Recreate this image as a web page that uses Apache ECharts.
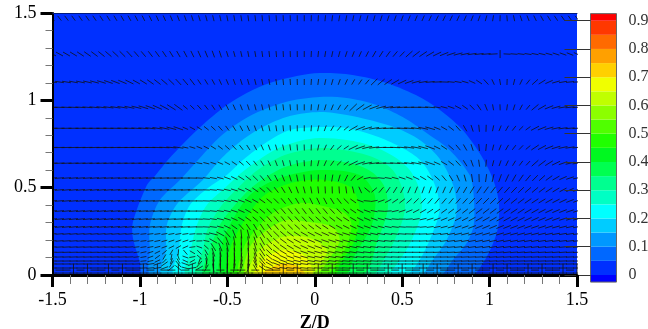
<!DOCTYPE html>
<html><head><meta charset="utf-8">
<style>html,body{margin:0;padding:0;background:#fff}#c{width:648px;height:329px}</style>
<script src="https://cdn.jsdelivr.net/npm/echarts@6/dist/echarts.min.js"></script>
</head><body><div id="c"></div>
<script>
const bandEdges=[-0.025,0,0.05,0.1,0.15,0.2,0.25,0.3,0.35,0.4,0.45,0.5,0.55,0.6,0.65,0.7,0.75,0.8,0.85,0.9,0.925];
const bandColors=['#0000ff','#0030ff','#0068ff','#0098ff','#00ccff','#00ffff','#00ffc4','#00ff90','#00ff50','#00f820','#20ff00','#50ff00','#8cff00','#c0ff00','#f0ff00','#ffd000','#ffa000','#ff6a00','#ff3800','#ff0000'];
const legendTicks=[0,0.9,0.1];
const contour005=[[-.983,0],[-1,.074],[-1.04,.212],[-1.04,.303],[-.96,.515],[-.914,.567],[-.84,.658],[-.743,.761],[-.629,.87],[-.503,.973],[-.389,1.042],[-.257,1.099],[-.103,1.139],[.029,1.156],[.217,1.145],[.411,1.099],[.6,1.019],[.731,.933],[.846,.83],[.943,.698],[1.017,.555],[1.051,.429],[1.051,.286],[1.023,.189],[.966,.074],[.897,0]];
const contour010=[[-.931,0],[-.943,.143],[-.943,.286],[-.886,.429],[-.771,.544],[-.657,.67],[-.543,.79],[-.411,.887],[-.297,.944],[-.143,.996],[.029,1.019],[.183,1.013],[.354,.973],[.503,.904],[.64,.813],[.771,.716],[.886,.572],[.909,.458],[.909,.286],[.869,.183],[.789,.086],[.714,0]];
const contour015=[[-.869,0],[-.851,.143],[-.846,.286],[-.783,.412],[-.64,.544],[-.543,.658],[-.429,.761],[-.297,.847],[-.143,.91],[.029,.933],[.183,.916],[.314,.887],[.469,.841],[.6,.773],[.697,.687],[.754,.601],[.8,.487],[.811,.355],[.754,.2],[.674,.086],[.6,0]];
const contour020=[[-.8,0],[-.777,.143],[-.76,.286],[-.714,.401],[-.611,.498],[-.503,.572],[-.411,.658],[-.274,.761],[-.143,.83],[.029,.847],[.183,.841],[.331,.801],[.469,.744],[.583,.675],[.646,.601],[.697,.487],[.714,.372],[.674,.24],[.6,.086],[.514,0]];
const contour025=[[-.731,0],[-.709,.143],[-.674,.286],[-.617,.401],[-.514,.498],[-.4,.601],[-.229,.716],[-.086,.767],[.029,.784],[.183,.773],[.331,.738],[.457,.675],[.543,.601],[.6,.487],[.611,.361],[.56,.212],[.486,.086],[.4,0]];
const contour030=[[-.674,0],[-.64,.143],[-.611,.269],[-.531,.401],[-.44,.498],[-.326,.601],[-.171,.687],[.029,.727],[.2,.71],[.343,.67],[.446,.601],[.503,.487],[.514,.361],[.457,.2],[.4,.097],[.326,0]];
const contour035=[[-.629,0],[-.6,.143],[-.543,.286],[-.457,.401],[-.343,.515],[-.171,.618],[.029,.658],[.2,.641],[.326,.59],[.4,.504],[.417,.372],[.36,.2],[.269,0]];
const contour040=[[-.531,0],[-.531,.172],[-.486,.286],[-.371,.458],[-.2,.555],[.029,.601],[.257,.572],[.343,.458],[.326,.286],[.229,.114],[.171,0]];
const contour045=[[-.474,0],[-.486,.143],[-.4,.315],[-.286,.458],[-.114,.532],[.057,.544],[.211,.498],[.257,.372],[.229,.2],[.143,.057],[.114,0]];
const contour050=[[-.429,0],[-.411,.143],[-.354,.24],[-.24,.355],[-.086,.412],[.046,.395],[.171,.355],[.211,.286],[.171,.143],[.057,0]];
const contour055=[[-.394,0],[-.371,.16],[-.274,.258],[-.16,.315],[-.029,.303],[.103,.275],[.143,.2],[.086,.097],[0,0]];
const contour060=[[-.371,0],[-.326,.132],[-.183,.218],[-.029,.212],[.069,.143],[.029,.057],[-.029,0]];
const contour065=[[-.343,0],[-.286,.097],[-.171,.143],[-.057,.109],[-.017,0]];
const contour070=[[-.303,0],[-.2,.063],[-.097,.052],[-.057,0]];
const contourList=[contour005,contour010,contour015,contour020,contour025,contour030,contour035,contour040,contour045,contour050,contour055,contour060,contour065,contour070];
const meshZ=[-1.5,-1.46,-1.42,-1.38,-1.34,-1.3,-1.26,-1.22,-1.18,-1.14,-1.1,-1.06,-1.02,-.98,-.94,-.9,-.86,-.82,-.78,-.74,-.7,-.66,-.62,-.58,-.54,-.5,-.46,-.42,-.38,-.34,-.3,-.26,-.22,-.18,-.14,-.1,-.06,-.02,.02,.06,.1,.14,.18,.22,.26,.3,.34,.38,.42,.46,.5,.54,.58,.62,.66,.7,.74,.78,.82,.86,.9,.94,.98,1.02,1.06,1.1,1.14,1.18,1.22,1.26,1.3,1.34,1.38,1.42,1.46,1.5];
const meshY=[1.47,1.265,1.105,.96,.84,.73,.64,.555,.487,.424,.366,.32,.275,.235,.195,.16,.13,.103,.08,.063,.04,.028,.011];
const vectorAngles=[
[-52,-52,-53,-54,-55,-55,-56,-57,-58,-59,-60,-61,-62,-63,-64,-65,-66,-68,-69,-70,-72,-73,-75,-76,-78,-79,-80,-81,-82,-83,-84,-85,-86,-87,-88,-89,-90,88,86,84,82,80,79,78,76,75,74,72,71,70,69,68,67,66,65,64,64,64,65,66,68,70,74,80,88,-85,-78,-72,-68,-64,-61,-58,-56,-55,-54,-53],
[-28,-29,-30,-31,-33,-35,-37,-39,-41,-43,-45,-47,-49,-50,-52,-54,-56,-58,-60,-62,-64,-66,-68,-70,-72,-73,-75,-77,-79,-80,-82,-84,-85,-87,-88,-89,90,87,84,81,78,75,72,69,66,63,60,57,54,50,46,42,38,34,30,26,22,18,15,12,9,7,5,3,90,-3,-5,-7,-9,-11,-13,-15,-18,-20,-22,-25],
[-8,-9,-10,-11,-12,-13,-15,-17,-19,-21,-23,-26,-29,-32,-35,-38,-41,-44,-47,-50,-53,-56,-59,-62,-65,-67,-70,-72,-74,-76,-78,-80,-82,-84,-86,-88,90,86,82,78,74,70,65,60,55,50,45,40,35,30,25,20,15,10,6,2,-2,-6,-10,-16,-24,-34,-48,-65,-80,88,76,64,52,42,32,24,16,10,6,3],
[-2,-2,-3,-3,-4,-5,-6,-7,-8,-9,-10,-12,-14,-17,-20,-24,-28,-32,-36,-40,-44,-48,-52,-56,-60,-63,-66,-69,-72,-75,-77,-79,-81,-83,-85,-88,90,86,80,74,68,60,52,44,36,28,20,14,10,6,4,2,0,-2,-5,-9,-14,-20,-28,-36,-46,-56,-68,-80,-88,82,72,62,50,40,30,22,16,10,6,4],
[1,1,1,1,1,0,0,0,-1,-1,-2,-3,-4,-5,-7,-9,-12,-15,-19,-24,-28,-33,-38,-43,-48,-53,-58,-62,-66,-70,-74,-78,-81,-84,-87,-89,90,85,78,70,60,50,40,30,22,16,10,6,3,0,-2,-5,-8,-12,-16,-22,-30,-38,-48,-60,-72,-84,88,78,68,60,52,44,36,28,22,16,12,8,5,3],
[2,2,2,2,2,2,2,2,2,2,1,1,0,0,-1,-2,-3,-5,-8,-12,-17,-22,-27,-32,-37,-42,-47,-52,-57,-62,-66,-70,-74,-78,-82,-85,-88,88,78,66,54,42,34,26,19,13,8,3,0,-3,-5,-8,-11,-15,-20,-26,-33,-41,-50,-60,-72,-84,84,76,68,60,52,46,40,34,28,22,17,12,9,6],
[3,3,3,3,3,3,3,3,3,2,2,2,2,1,1,0,0,-1,-2,-4,-6,-10,-14,-18,-23,-28,-34,-40,-46,-52,-58,-64,-69,-74,-78,-83,-87,85,76,66,55,44,34,26,18,12,7,3,0,-3,-5,-8,-11,-15,-19,-24,-30,-38,-47,-58,-70,-82,86,76,70,64,58,53,47,42,37,32,26,20,14,9],
[4,4,4,4,4,4,4,4,3,3,3,3,3,3,2,2,2,1,1,0,-1,-3,-6,-10,-15,-20,-26,-32,-38,-44,-50,-56,-62,-68,-73,-78,-83,-88,88,84,80,74,64,50,30,12,0,-6,-10,-14,-18,-22,-26,-30,-36,-42,-50,-58,-66,-74,-82,-88,82,76,70,65,60,55,50,46,42,36,30,24,18,12],
[5,5,5,5,5,5,5,5,5,4,4,4,4,4,4,3,3,3,2,2,1,0,-2,-5,-8,-12,-17,-22,-28,-34,-40,-46,-52,-58,-64,-70,-75,-80,-84,-87,-88,-86,-82,-76,-66,-40,40,50,55,58,62,66,68,70,70,68,66,64,62,60,58,56,54,52,50,48,46,44,42,40,37,34,31,28,24,20],
[5,5,5,5,5,5,5,5,5,5,4,4,4,4,3,3,3,2,2,1,0,-1,-2,-4,-7,-11,-15,-20,-25,-30,-35,-40,-45,-50,-54,-58,-62,-64,-64,-62,-58,-52,-45,-35,-20,-5,10,20,28,34,38,42,45,47,49,50,50,50,49,48,47,46,45,44,43,41,39,37,35,33,31,29,27,25,22,20],
[6,6,6,6,6,6,6,6,6,5,5,5,5,4,4,4,3,3,2,1,0,-1,-3,-6,-9,-13,-18,-24,-30,-35,-40,-44,-47,-49,-51,-52,-53,-53,-52,-50,-47,-44,-40,-34,-27,-20,-12,-4,4,12,18,23,27,30,33,35,36,37,38,38,38,38,38,37,36,35,34,33,31,29,27,25,23,21,19,17],
[6,6,6,6,6,6,6,6,6,6,5,5,5,5,4,4,4,3,3,2,0,-2,-4,-8,-13,-18,-24,-30,-36,-41,-46,-49,-50,-50,-49,-48,-46,-44,-42,-40,-38,-36,-33,-30,-27,-24,-20,-15,-10,-5,0,5,9,13,17,20,23,25,27,28,29,30,30,30,29,29,28,27,26,25,23,22,20,18,16,14],
[6,6,6,6,6,6,6,6,6,6,6,6,6,6,6,5,5,5,4,3,2,0,-3,-7,-15,-25,-35,-48,-56,-58,-56,-53,-50,-47,-44,-42,-40,-37,-35,-33,-31,-29,-27,-25,-23,-20,-17,-14,-11,-7,-4,-1,2,5,8,11,14,16,18,20,21,22,23,23,23,22,21,21,20,19,18,17,15,14,12,11],
[5,5,5,5,5,5,5,5,5,5,5,5,5,6,7,8,9,10,10,8,5,0,-6,-14,-28,-48,-68,-84,-76,-66,-58,-50,-44,-40,-36,-33,-30,-28,-26,-24,-22,-20,-18,-17,-15,-14,-12,-10,-8,-6,-4,-2,0,2,5,7,9,11,13,14,15,16,16,16,16,16,15,15,14,14,13,12,11,10,9,8],
[4,4,4,4,4,4,4,4,4,4,4,4,5,7,9,12,15,18,20,18,12,2,-12,-30,-50,-68,-80,-88,-82,-72,-60,-50,-42,-36,-32,-28,-25,-23,-21,-19,-18,-16,-15,-13,-12,-11,-9,-8,-6,-4,-3,-1,0,2,3,5,7,8,9,10,11,12,12,12,12,11,11,11,10,10,9,9,8,7,7,6],
[3,3,3,3,3,3,3,3,3,4,4,4,6,8,11,15,20,26,30,24,8,-20,-42,-58,-68,-78,-85,-89,-86,-74,-60,-48,-40,-34,-30,-27,-24,-22,-20,-18,-16,-14,-13,-11,-10,-9,-7,-6,-4,-3,-2,-1,0,1,2,3,4,5,6,7,8,8,9,9,9,8,8,8,7,7,7,6,6,5,5,5],
[2,2,2,2,2,2,2,3,3,3,4,4,8,12,18,26,40,60,85,-50,-30,-45,-60,-72,-80,-85,-88,90,-85,-70,-56,-44,-36,-30,-26,-22,-19,-17,-15,-14,-12,-11,-10,-9,-8,-7,-6,-4,-3,-2,-1,0,0,1,1,2,2,3,4,4,5,5,6,6,6,6,5,5,5,5,4,4,4,4,3,3],
[2,2,2,2,2,2,2,2,2,3,3,3,6,10,20,35,60,80,-70,-20,10,-40,-70,-80,-85,-88,90,85,88,-75,-55,-40,-30,-24,-20,-17,-15,-13,-12,-11,-10,-9,-8,-7,-6,-5,-4,-3,-3,-2,-1,0,0,0,1,1,1,2,2,3,3,3,4,4,4,4,4,3,3,3,3,3,3,2,2,2],
[1,1,1,1,1,1,1,1,1,1,1,1,3,6,12,25,45,70,-60,-25,30,70,-80,-85,-88,90,85,80,85,-70,-50,-35,-25,-20,-16,-13,-11,-10,-9,-8,-7,-6,-5,-5,-4,-4,-3,-2,-2,-1,0,0,0,0,1,1,1,1,2,2,2,2,3,3,3,3,2,2,2,2,2,2,2,2,1,1],
[1,1,1,1,1,1,1,1,1,1,1,1,2,4,8,18,35,60,-50,-20,20,50,80,-85,-88,88,82,75,80,-65,-45,-30,-20,-15,-12,-10,-8,-7,-6,-5,-5,-4,-4,-3,-3,-2,-2,-1,-1,0,0,0,0,0,0,1,1,1,1,1,2,2,2,2,2,2,2,1,1,1,1,1,1,1,1,1],
[0,0,0,0,0,0,0,0,0,0,0,0,1,2,5,10,20,40,-40,-15,10,30,60,-80,-85,85,78,70,72,-60,-35,-20,-12,-9,-7,-6,-5,-4,-3,-3,-2,-2,-2,-1,-1,-1,0,0,0,0,0,0,0,0,0,0,0,0,1,1,1,1,1,1,1,1,1,1,0,0,0,0,0,0,0,0],
[90,0,0,90,0,90,0,0,90,0,90,0,0,90,0,90,0,0,90,0,90,0,0,90,0,90,0,0,90,0,90,0,0,90,0,90,0,0,90,0,90,0,0,90,0,90,0,0,90,0,90,0,0,90,0,90,0,0,90,0,90,0,0,90,0,90,0,0,90,0,90,0,0,90,0,90],
[0,0,0,0,0,0,0,0,0,0,0,0,0,0,0,0,0,0,0,0,0,0,0,0,0,0,0,0,0,0,0,0,0,0,0,0,0,0,0,0,0,0,0,0,0,0,0,0,0,0,0,0,0,0,0,0,0,0,0,0,0,0,0,0,0,0,0,0,0,0,0,0,0,0,0,0]
];
const speedTop=[6,6,6,6,6,6,6,6,6,6,6,6,6,6,6,6,6,6,6,6,6,6,6,6,6,6,6,6,6,6,6,6,6,6,6,6,6,6,6,6,6,6,6,6,6,6,6,6,6,6,6,6,6,6,6,6,6,6,6,6,6,6,6,6,6,6,6,6,6,6,6,6,6,6,6,6];
const speedUpper=[8,8,8,8,8,8,8,8,8,8,8,8,7,7,7,7,7,7,7,7,7,7,7,7,7,6,6,6,6,6,6,6,6,6,6,6,6,6,6,6,6,6,6,6,6,6,7,7,7,7,7,9,9,9,9,9,9,9,9,9,9,9,9,9,8,7,7,7,7,7,7,7,7,7,7,7];
const speedHigh=[9,9,9,9,9,9,9,9,9,9,9,9,8,8,8,8,8,8,8,8,8,6,6,6,6,6,6,6,6,6,6,6,6,6,6,6,6,6,6,6,6,6,6,6,6,6,9,9,9,9,9,9,9,9,9,9,9,7,7,7,7,7,7,6,6,6,6,6,6,8,8,8,8,8,8,8];
const speedMid=[10,10,10,10,10,10,10,10,10,10,10,10,10,10,10,10,10,10,10,6,6,6,6,6,6,6,6,6,6,6,6,6,6,6,6,6,6,6,6,6,6,6,6,10,10,10,10,10,10,10,10,10,10,10,10,7,7,7,7,7,7,7,7,6,6,6,6,6,6,9,9,9,9,9,9,9];
const speedLow=[9,9,9,9,9,9,9,9,9,9,9,9,9,9,9,9,9,9,9,9,9,7,7,7,7,7,7,7,7,7,7,7,7,7,7,7,7,7,7,7,7,7,7,7,7,7,7,7,7,7,7,7,7,7,7,7,7,7,7,7,8,8,8,8,8,8,8,8,8,8,8,8,8,8,8,8];
const speedFan=[8,8,8,8,8,8,8,8,8,8,8,8,6,6,6,6,6,6,6,6,6,6,6,9,9,9,9,9,9,9,9,8,8,8,8,8,8,8,8,8,8,8,8,8,8,8,8,8,8,8,8,8,8,8,8,8,8,8,8,8,8,8,8,8,8,8,8,8,8,8,8,8,8,8,8,8];
const speedWall=[8,8,8,8,8,8,8,8,8,8,8,8,8,8,8,8,8,8,8,8,8,8,8,9,9,9,9,9,9,8,8,8,8,8,8,8,8,8,8,8,8,8,8,8,8,8,8,8,8,8,8,8,8,8,8,8,8,8,8,8,8,8,8,8,8,8,8,8,8,8,8,8,8,8,8,8];
const speedTicks=[13,8,8,13,8,13,8,8,13,8,13,8,8,13,8,13,8,8,13,8,13,8,8,13,8,13,8,8,13,8,13,8,8,13,8,13,8,8,13,8,13,8,8,13,8,13,8,8,13,8,13,8,8,13,8,13,8,8,13,8,13,8,8,13,8,13,8,8,13,8,13,8,8,13,8,13];
const rowSpeeds=[speedTop,speedUpper,speedHigh,speedMid,speedMid,speedMid,speedMid,speedLow,speedLow,speedLow,speedLow,speedLow,speedLow,speedFan,speedFan,speedFan,speedFan,speedFan,speedFan,speedWall,speedWall,speedTicks,speedWall];

const FONT='"Liberation Serif","Times New Roman",serif';
const vectorData=[];
vectorAngles.forEach((row,r)=>row.forEach((a,c)=>vectorData.push([meshZ[c],meshY[r],a,rowSpeeds[r][c]])));
const bandData=bandColors.map((col,i)=>[bandEdges[i],bandEdges[i+1],i]);
const PXD=1/175;
const chart=echarts.init(document.getElementById('c'),null,{renderer:'canvas'});
chart.setOption({
 animation:false,backgroundColor:'#fff',
 grid:[{left:52.5,right:71,top:13,bottom:54,outerBoundsMode:'none'},{left:590.5,width:26,top:20.7,height:254.3,outerBoundsMode:'none'}],
 xAxis:[
  {gridIndex:0,type:'value',min:-1.5,max:1.5,interval:.5,z:10,position:'bottom',
   name:'Z/D',nameLocation:'middle',nameGap:35,nameTextStyle:{fontFamily:FONT,fontSize:18,fontWeight:'bold',color:'#000'},
   axisLine:{onZero:false,lineStyle:{color:'#000',width:3}},
   axisTick:{length:12,lineStyle:{color:'#000',width:3}},
   minorTick:{show:true,splitNumber:5,length:9,lineStyle:{color:'#777',width:1}},
   splitLine:{show:false},axisLabel:{margin:16,fontFamily:FONT,fontSize:18,color:'#000'}},
  {gridIndex:1,type:'value',min:0,max:1,show:false},
  {gridIndex:0,type:'value',min:-1.5,max:1.5,position:'top',z:10,axisLine:{onZero:false,lineStyle:{color:'#001a80',width:1}},axisTick:{show:false},axisLabel:{show:false},splitLine:{show:false}}
 ],
 yAxis:[
  {gridIndex:0,type:'value',min:0,max:1.5,interval:.5,z:10,
   name:'Y/D',nameLocation:'middle',nameGap:39,nameTextStyle:{fontFamily:FONT,fontSize:18,fontWeight:'bold',color:'#000'},
   axisLine:{onZero:false,lineStyle:{color:'#000',width:2}},
   axisTick:{length:12,lineStyle:{color:'#000',width:3}},
   minorTick:{show:true,splitNumber:5,length:7,lineStyle:{color:'#777',width:1}},
   splitLine:{show:false},axisLabel:{margin:16,fontFamily:FONT,fontSize:18,color:'#000'}},
  {gridIndex:1,type:'value',position:'right',min:legendTicks[0],max:legendTicks[1],interval:legendTicks[2],z:10,
   axisLine:{show:false},axisTick:{inside:true,length:26,lineStyle:{color:'#333',width:1}},
   splitLine:{show:false},
   axisLabel:{margin:12,padding:[6,0,0,0],fontFamily:FONT,fontSize:16,color:'#333',formatter:v=>String(+v.toFixed(1))}}
 ],
 series:[
  {type:'custom',xAxisIndex:0,yAxisIndex:0,clip:true,silent:true,z:2,
   data:[[-1]].concat(contourList.map((_,i)=>[i])),
   encode:{x:-1,y:-1},
   renderItem:(p,api)=>{
    const i=api.value(0);
    if(i<0){const a=api.coord([-1.5,1.5]),b=api.coord([1.5,0]);
     return {type:'rect',shape:{x:a[0],y:a[1],width:b[0]-a[0],height:b[1]-a[1]},style:{fill:bandColors[1]}};}
    return {type:'polygon',shape:{points:contourList[i].map(q=>api.coord(q)),smooth:0.3},style:{fill:bandColors[i+2]}};
   }},
  {type:'custom',xAxisIndex:0,yAxisIndex:0,clip:true,silent:true,z:3,data:vectorData,
   encode:{x:0,y:1},
   renderItem:(p,api)=>{
    const z=api.value(0),y=api.value(1),a=api.value(2)*Math.PI/180,h=api.value(3)*PXD/2;
    const s=api.coord([z-h*Math.cos(a),y-h*Math.sin(a)]),e=api.coord([z+h*Math.cos(a),y+h*Math.sin(a)]);
    return {type:'line',shape:{x1:s[0],y1:s[1],x2:e[0],y2:e[1]},style:{stroke:'#111',lineWidth:0.8,fill:null}};
   }},
  {type:'custom',xAxisIndex:1,yAxisIndex:1,clip:false,silent:true,z:3,data:bandData,
   encode:{y:[0,1]},
   renderItem:(p,api)=>{
    const a=api.coord([0,api.value(1)]),b=api.coord([1,api.value(0)]);
    return {type:'rect',shape:{x:a[0],y:a[1],width:b[0]-a[0],height:b[1]-a[1]},style:{fill:bandColors[api.value(2)]}};
   }},
  {type:'custom',xAxisIndex:1,yAxisIndex:1,clip:false,silent:true,z:4,data:[[bandEdges[0],bandEdges[bandEdges.length-1]]],
   encode:{y:[0,1]},
   renderItem:(p,api)=>{
    const a=api.coord([0,api.value(1)]),b=api.coord([1,api.value(0)]);
    return {type:'rect',shape:{x:a[0],y:a[1],width:b[0]-a[0],height:b[1]-a[1]},style:{fill:null,stroke:'#666',lineWidth:1}};
   }}
 ]
});
</script></body></html>
